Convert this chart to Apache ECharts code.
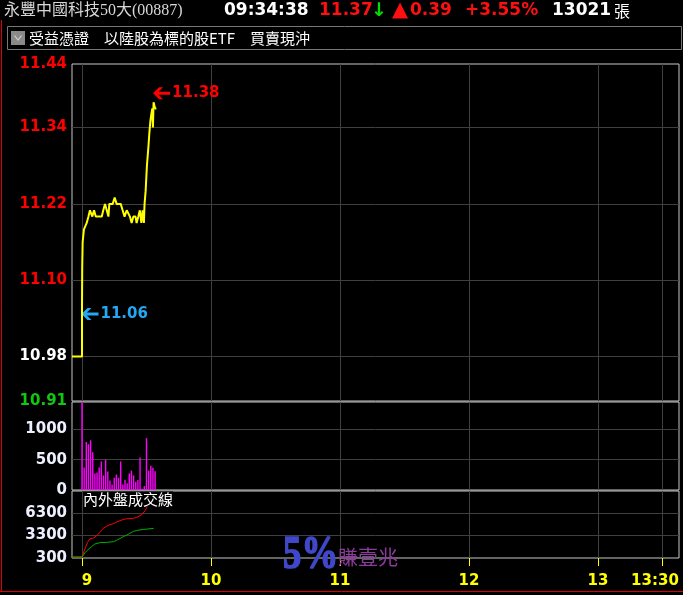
<!DOCTYPE html>
<html><head><meta charset="utf-8">
<script src="https://cdn.jsdelivr.net/npm/echarts@6/dist/echarts.min.js"></script>
<style>html,body{margin:0;padding:0;background:#000}#c{width:683px;height:595px}</style>
</head><body><div id="c"></div>
<script>
// ---------- data ----------
const xMin = -4.65, xMax = 277.7;               // minutes from 09:00
const xTickMinutes = [0, 60, 120, 180, 240, 270];
const xTickLabels = ['9', '10', '11', '12', '13', '13:30'];

const refPrice = 10.98;
const priceLabels = [10.91, 10.98, 11.10, 11.22, 11.34, 11.44];
const priceGridValues = [10.98, 11.10, 11.22, 11.34];
const priceMinutes = [-4.65, 0, 0, 0.1, 0.3, 0.9, 1.4, 2.2, 3.0, 3.7, 4.2, 4.8, 5.6, 6.4, 7.6, 9.2, 9.9, 10.7, 11.5, 12.3, 12.7, 13.5, 14.3, 15.2, 16.1, 18.0, 18.9, 19.8, 20.8, 21.7, 22.3, 23.1, 23.9, 24.9, 25.4, 26.2, 26.9, 27.6, 28.2, 28.8, 29.1, 29.6, 30.2, 30.9, 31.3, 31.8, 32.2, 32.7, 33.0, 33.3, 33.6, 34.0, 34.6];
const prices       = [10.98, 10.98, 11.06, 11.12, 11.16, 11.18, 11.18, 11.19, 11.20, 11.21, 11.21, 11.20, 11.21, 11.20, 11.20, 11.20, 11.21, 11.22, 11.21, 11.20, 11.22, 11.22, 11.22, 11.23, 11.22, 11.22, 11.21, 11.20, 11.21, 11.21, 11.20, 11.19, 11.20, 11.20, 11.19, 11.20, 11.21, 11.19, 11.21, 11.19, 11.22, 11.24, 11.28, 11.31, 11.33, 11.35, 11.36, 11.37, 11.34, 11.38, 11.38, 11.37, 11.37];
const sessionStartIndex = 2;

const volLabels = [0, 500, 1000];
const volGridValues = [500, 1000];
const volMinutes = [0,1,2,3,4,5,6,7,8,9,10,11,12,13,14,15,16,17,18,19,20,21,22,23,24,25,26,27,28,29,30,31,32,33,34];
const volumes    = [1450,370,790,755,820,620,270,290,370,470,240,500,305,155,90,200,255,200,470,90,170,110,270,320,240,135,165,535,20,65,855,320,400,365,310];

const cumLabels = [300, 3300, 6300];
const cumGridValues = [3300, 6300];
const outerMinutes = [-4.65, 0, 1.4, 2.6, 3.7, 5.3, 6.8, 8.4, 9.9, 11.5, 13.0, 14.6, 16.1, 17.7, 19.2, 20.8, 22.3, 23.9, 25.4, 26.2, 27.8, 28.5, 29.3, 30.1, 31.0, 32.5, 34.0];
const outerVol     = [440, 440, 1550, 2400, 2850, 2970, 3250, 3750, 4250, 4550, 4750, 4880, 5100, 5280, 5440, 5530, 5550, 5600, 5700, 5900, 6050, 6300, 6600, 7000, 7500, 8100, 8600];
const innerMinutes = [-4.65, 0, 1.4, 2.9, 4.4, 5.9, 8.4, 11.5, 14.6, 16.1, 17.7, 19.2, 20.8, 22.3, 23.9, 25.4, 27.0, 28.5, 30.1, 31.6, 33.3];
const innerVol     = [420, 420, 1000, 1450, 1800, 2150, 2350, 2380, 2480, 2650, 2900, 3150, 3350, 3600, 3850, 3950, 4050, 4100, 4150, 4200, 4250];

// ---------- build ----------
const zip = (a, b) => a.map((v, i) => [v, b[i]]);
const priceData = zip(priceMinutes, prices);
let hiIdx = 0, loIdx = sessionStartIndex;
prices.forEach((p, i) => { if (p > prices[hiIdx]) hiIdx = i; if (i >= sessionStartIndex && p < prices[loIdx]) loIdx = i; });

const numFont = { fontFamily: 'DejaVu Sans', fontWeight: 'bold', fontSize: 15 };
const arrowPath = 'path://M0,6L6,0L10,0L5.5,4.5L17,4.5L17,7.5L5.5,7.5L10,12L6,12Z';

const gridBase = { left: 72, width: 607, show: true, borderColor: '#c8c8c8', borderWidth: 1, backgroundColor: 'transparent', outerBoundsMode: 'none', containLabel: false };
const splitStyle = { show: true, lineStyle: { color: '#404040', width: 1 } };

function xAxisFor(i) {
  const last = i === 2;
  return {
    gridIndex: i, type: 'value', min: xMin, max: xMax,
    axisLine: { show: false },
    axisTick: { show: last, customValues: xTickMinutes, length: 8, lineStyle: { color: '#ffff00', width: 1 } },
    splitLine: splitStyle,
    axisLabel: {
      show: last, customValues: xTickMinutes, margin: 16, color: '#ffff00', ...numFont,
      formatter: v => {
        const k = xTickMinutes.indexOf(Number(v));
        const t = xTickLabels[k];
        if (k === 0) return '{first|' + t + '}';
        if (k === xTickMinutes.length - 1) return '{last|' + t + '}';
        return t;
      },
      rich: {
        first: { padding: [0, 0, 0, 10], color: '#ffff00', ...numFont },
        last: { padding: [0, 15, 0, 0], color: '#ffff00', ...numFont }
      }
    }
  };
}

function yAxisFor(i, min, max, labels, gridVals, fmt, colorFn) {
  return {
    gridIndex: i, type: 'value', min: min, max: max,
    axisLine: { show: false },
    axisTick: { show: false, customValues: gridVals },
    splitLine: splitStyle,
    axisLabel: { customValues: labels, margin: 5, formatter: fmt, color: colorFn, ...numFont }
  };
}

const priceColor = v => { const n = parseFloat(v); return Math.abs(n - refPrice) < 1e-6 ? '#ffffff' : (n > refPrice ? '#ff0000' : '#10c810'); };

const option = {
  backgroundColor: '#000',
  animation: false,
  grid: [
    { ...gridBase, top: 64, height: 337 },
    { ...gridBase, top: 402, height: 88 },
    { ...gridBase, top: 491, height: 67 }
  ],
  xAxis: [xAxisFor(0), xAxisFor(1), xAxisFor(2)],
  yAxis: [
    yAxisFor(0, 10.91, 11.44, priceLabels, priceGridValues, v => Number(v).toFixed(2), priceColor),
    yAxisFor(1, 0, 1450, volLabels, volGridValues, v => String(Math.round(v)), '#eef0ff'),
    yAxisFor(2, 300, 9230, cumLabels, cumGridValues, v => String(Math.round(v)), '#eef0ff')
  ],
  series: [
    {
      type: 'line', xAxisIndex: 0, yAxisIndex: 0, data: priceData,
      symbol: 'none', lineStyle: { color: '#ffff00', width: 2 }, z: 5,
      markPoint: {
        silent: true,
        data: [
          { coord: priceData[hiIdx], symbol: arrowPath, symbolSize: [17, 12], symbolOffset: [8, -9],
            itemStyle: { color: '#ff0000' },
            label: { show: true, position: 'right', distance: 2, formatter: prices[hiIdx].toFixed(2), color: '#ff0000', ...numFont } },
          { coord: priceData[loIdx], symbol: arrowPath, symbolSize: [17, 12], symbolOffset: [8, 8.5],
            itemStyle: { color: '#22a8f5' },
            label: { show: true, position: 'right', distance: 2, formatter: prices[loIdx].toFixed(2), color: '#22a8f5', ...numFont } }
        ]
      }
    },
    {
      type: 'bar', xAxisIndex: 1, yAxisIndex: 1, data: zip(volMinutes, volumes),
      barWidth: 1.4, itemStyle: { color: '#ff00ff' }
    },
    {
      type: 'line', xAxisIndex: 2, yAxisIndex: 2, data: zip(outerMinutes, outerVol),
      symbol: 'none', lineStyle: { color: '#ff0000', width: 1 }
    },
    {
      type: 'line', xAxisIndex: 2, yAxisIndex: 2, data: zip(innerMinutes, innerVol),
      symbol: 'none', lineStyle: { color: '#00b000', width: 1 }
    }
  ],
  graphic: [
    // frame
    { type: 'line', shape: { x1: 1.5, y1: 20, x2: 1.5, y2: 591.5 }, style: { stroke: '#e00000', lineWidth: 1 }, z: 50 },
    { type: 'line', shape: { x1: 0, y1: 591.5, x2: 683, y2: 591.5 }, style: { stroke: '#e00000', lineWidth: 1 }, z: 50 },
    { type: 'rect', shape: { x: 7.5, y: 26.5, width: 674, height: 23 }, style: { stroke: '#777777', fill: null, lineWidth: 1 }, z: 50 },
    // header row 1
    { type: 'text', x: 4, y: 11, z: 50, style: { text: '永豐中國科技50大(00887)', fill: '#d8d8d8', font: '16px "Liberation Serif", "Noto Sans CJK TC"', verticalAlign: 'middle', textVerticalAlign: 'middle' } },
    { type: 'text', x: 224, y: 11, z: 50, style: { text: '09:34:38', fill: '#ffffff', font: 'bold 17px "DejaVu Sans"', verticalAlign: 'middle', textVerticalAlign: 'middle' } },
    { type: 'text', x: 319, y: 11, z: 50, style: { text: '11.37', fill: '#ff1010', font: 'bold 17px "DejaVu Sans"', verticalAlign: 'middle', textVerticalAlign: 'middle' } },
    { type: 'text', x: 371, y: 11, z: 50, style: { text: '↓', fill: '#00e000', font: 'bold 19px "DejaVu Sans"', verticalAlign: 'middle', textVerticalAlign: 'middle' } },
    { type: 'text', x: 392, y: 11, z: 50, style: { text: '▲', fill: '#ff1010', font: 'bold 21px "DejaVu Sans"', verticalAlign: 'middle', textVerticalAlign: 'middle' } },
    { type: 'text', x: 410, y: 11, z: 50, style: { text: '0.39', fill: '#ff1010', font: 'bold 17px "DejaVu Sans"', verticalAlign: 'middle', textVerticalAlign: 'middle' } },
    { type: 'text', x: 465, y: 11, z: 50, style: { text: '+3.55%', fill: '#ff1010', font: 'bold 17px "DejaVu Sans"', verticalAlign: 'middle', textVerticalAlign: 'middle' } },
    { type: 'text', x: 552, y: 11, z: 50, style: { text: '13021', fill: '#ffffff', font: 'bold 17px "DejaVu Sans"', verticalAlign: 'middle', textVerticalAlign: 'middle' } },
    { type: 'text', x: 614, y: 11, z: 50, style: { text: '張', fill: '#ffffff', font: '16px "Noto Sans CJK TC"', verticalAlign: 'middle', textVerticalAlign: 'middle' } },
    // header row 2
    { type: 'rect', shape: { x: 11, y: 31, width: 14, height: 14 }, style: { fill: '#8a8a8a' }, z: 50 },
    { type: 'polyline', shape: { points: [[14.5, 35.5], [18, 40], [21.5, 35.5]] }, style: { stroke: '#d0d0d0', lineWidth: 1.2, fill: null }, z: 51 },
    { type: 'text', x: 29, y: 38, z: 50, style: { text: '受益憑證　以陸股為標的股ETF　買賣現沖', fill: '#ffffff', font: '15px "Noto Sans CJK TC"', verticalAlign: 'middle', textVerticalAlign: 'middle' } },
    // bottom panel title
    { type: 'text', x: 83, y: 491.5, z: 60, style: { text: '內外盤成交線', fill: '#ffffff', font: '15px "Noto Sans CJK TC"', backgroundColor: '#000', verticalAlign: 'top', textVerticalAlign: 'top' } },
    // watermark
    { type: 'text', x: 283, y: 556, scaleX: 0.8, z: 60, style: { text: '5%', fill: '#3f48c8', stroke: '#3f48c8', lineWidth: 1.6, font: 'bold 46px "Liberation Serif"', verticalAlign: 'middle', textVerticalAlign: 'middle' } },
    { type: 'text', x: 338, y: 557, z: 60, style: { text: '賺壹兆', fill: '#8c3c9c', font: '20px "Noto Sans CJK TC"', verticalAlign: 'middle', textVerticalAlign: 'middle' } }
  ]
};

const chart = echarts.init(document.getElementById('c'), null, { renderer: 'canvas' });
chart.setOption(option);
</script>
</body></html>
